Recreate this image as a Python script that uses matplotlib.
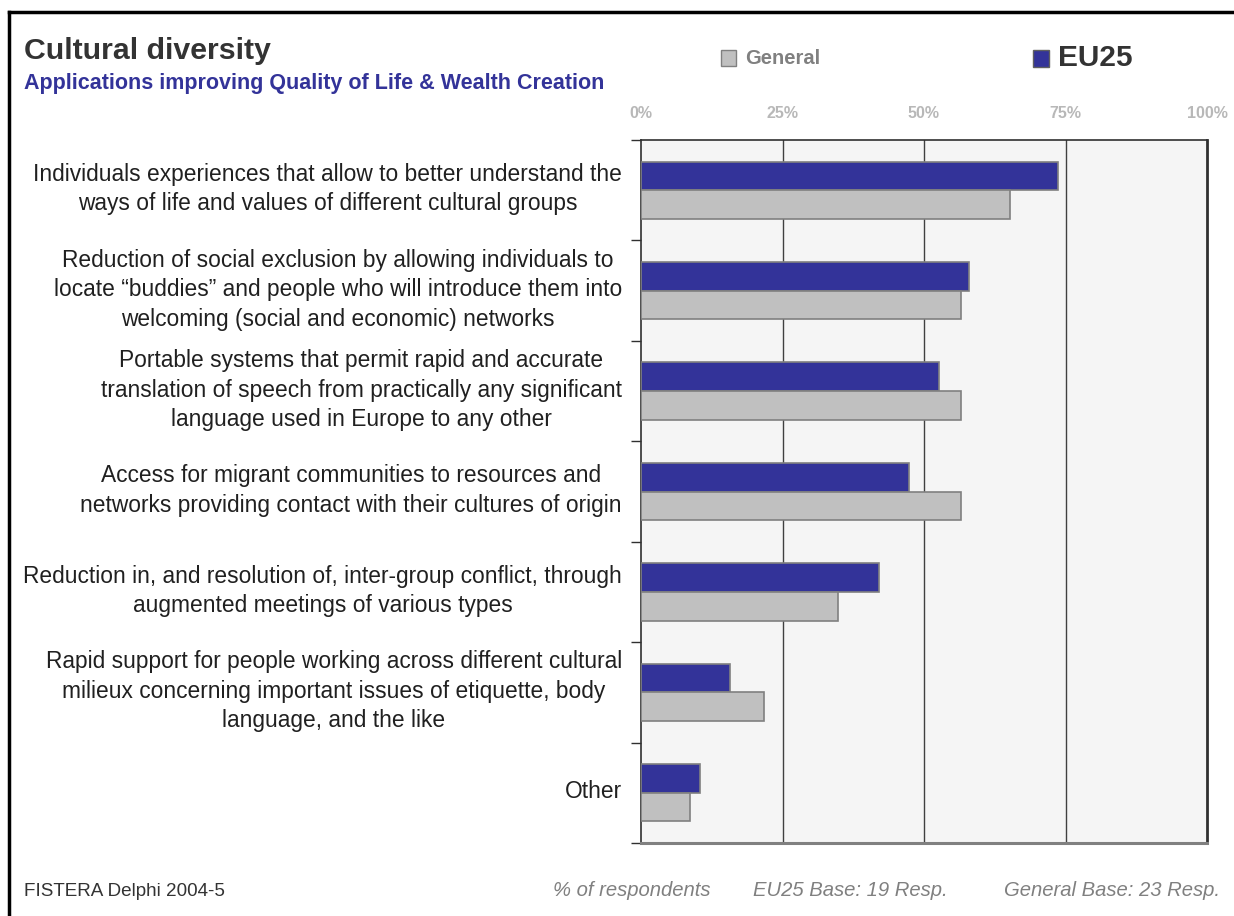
import matplotlib
matplotlib.use("Agg")
import matplotlib.pyplot as plt
from matplotlib.lines import Line2D
from matplotlib.patches import Rectangle

# ---- data ----
categories = [
    ["Individuals experiences that allow to better understand the",
     "ways of life and values of different cultural groups"],
    ["Reduction of social exclusion by allowing individuals to",
     "locate \u201cbuddies\u201d and people who will introduce them into",
     "welcoming (social and economic) networks"],
    ["Portable systems that permit rapid and accurate",
     "translation of speech from practically any significant",
     "language used in Europe to any other"],
    ["Access for migrant communities to resources and",
     "networks providing contact with their cultures of origin"],
    ["Reduction in, and resolution of, inter-group conflict, through",
     "augmented meetings of various types"],
    ["Rapid support for people working across different cultural",
     "milieux concerning important issues of etiquette, body",
     "language, and the like"],
    ["Other"],
]
eu25 = [73.7, 57.9, 52.6, 47.4, 42.1, 15.8, 10.5]
general = [65.2, 56.5, 56.5, 56.5, 34.8, 21.7, 8.7]
xticks = [0, 25, 50, 75, 100]
xtick_labels = ["0%", "25%", "50%", "75%", "100%"]

W, H = 1234, 916
fig = plt.figure(figsize=(W / 100, H / 100), dpi=100)
fig.patch.set_facecolor("white")

def fx(px):
    return px / W

def fy(py):
    return 1 - py / H

ax = fig.add_axes([fx(641), fy(843), fx(1207) - fx(641), fy(140) - fy(843)])
ax.set_facecolor("#f5f5f5")

n = len(categories)
ys = list(range(n))
bh = 0.285
ax.barh([y - bh / 2 for y in ys], eu25, height=bh, color="#333399",
        edgecolor="#808080", linewidth=1.2, zorder=3)
ax.barh([y + bh / 2 for y in ys], general, height=bh, color="#c0c0c0",
        edgecolor="#808080", linewidth=1.2, zorder=3)

ax.set_xlim(0, 100)
ax.set_ylim(n - 0.5, -0.5)
for v in xticks[1:-1]:
    ax.axvline(v, color="#404040", linewidth=1.0, zorder=1)

ax.set_xticks([])
ax.set_yticks([y - 0.5 for y in range(n + 1)])
ax.set_yticklabels([])
ax.tick_params(axis="y", length=7, width=1, color="#303030", direction="out")

for side in ["left", "top"]:
    ax.spines[side].set_color("#303030")
    ax.spines[side].set_linewidth(1.2)
ax.spines["right"].set_color("#303030")
ax.spines["right"].set_linewidth(2)
ax.spines["bottom"].set_color("#808080")
ax.spines["bottom"].set_linewidth(2.2)

# top percentage labels
for v, lab in zip(xticks, xtick_labels):
    ax.text(v, 1.0 + 0.038, lab, transform=ax.get_xaxis_transform(),
            ha="center", va="center", fontsize=11.5, fontweight="bold",
            color="#b8b8b8", family="Liberation Sans")

# category labels: centred lines, block right-aligned next to the axis
for i, lines in enumerate(categories):
    cy = 140 + (843 - 140) * (i + 0.5) / n - 1
    fig.text(fx(622), fy(cy), "\n".join(lines), ha="right", va="center",
             multialignment="center", linespacing=1.36,
             fontsize=16.4, color="#202020", family="Liberation Sans")

# titles
fig.text(fx(24), fy(51), "Cultural diversity", ha="left", va="center",
         fontsize=21.8, fontweight="bold", color="#333333", family="Liberation Sans")
fig.text(fx(24), fy(83), "Applications improving Quality of Life & Wealth Creation",
         ha="left", va="center", fontsize=15.5, fontweight="bold",
         color="#333399", family="Liberation Sans")

# legend
fig.patches.append(Rectangle((fx(721), fy(66)), fx(15), fy(50) - fy(66),
                             transform=fig.transFigure, facecolor="#c0c0c0",
                             edgecolor="#808080", linewidth=1))
fig.text(fx(745), fy(59), "General", ha="left", va="center", fontsize=14.5,
         fontweight="bold", color="#808080", family="Liberation Sans")
fig.patches.append(Rectangle((fx(1033), fy(67)), fx(16), fy(50) - fy(67),
                             transform=fig.transFigure, facecolor="#333399",
                             edgecolor="#606060", linewidth=1))
fig.text(fx(1058), fy(58), "EU25", ha="left", va="center", fontsize=21.5,
         fontweight="bold", color="#333333", family="Liberation Sans")

# footer
fig.text(fx(24), fy(891), "FISTERA Delphi 2004-5", ha="left", va="center",
         fontsize=13.6, color="#333333", family="Liberation Sans")
for txt, x0 in [("% of respondents", 553), ("EU25 Base: 19 Resp.", 753),
                ("General Base: 23 Resp.", 1004)]:
    fig.text(fx(x0), fy(891), txt, ha="left", va="center", fontsize=14.6,
             style="italic", color="#808080", family="Liberation Sans")

# outer border (left and top)
fig.add_artist(Line2D([fx(9), fx(9)], [0, fy(12)], color="black", linewidth=2.5,
                      transform=fig.transFigure))
fig.add_artist(Line2D([fx(9), 1], [fy(12), fy(12)], color="black", linewidth=2.5,
                      transform=fig.transFigure))

fig.savefig("out.png", dpi=100)
